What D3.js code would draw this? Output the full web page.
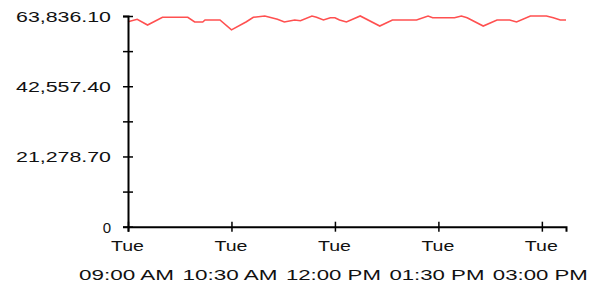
<!DOCTYPE html>
<html>
<head>
<meta charset="utf-8">
<script src="https://cdn.jsdelivr.net/npm/d3@7"></script>
<style>
  html, body { margin: 0; padding: 0; background: #ffffff; }
  svg { display: block; }
  text { font-family: "Liberation Sans", Arial, sans-serif; font-size: 15px; fill: #111; }
</style>
</head>
<body>
<svg id="chart" width="601" height="291"></svg>
<script>
// ---- data ----
const times = ["09:00","09:08","09:17","09:30","09:52","09:58","10:05","10:07","10:20","10:30",
  "10:43","10:49","10:59","11:10","11:16","11:25","11:30","11:40","11:44","11:50",
  "11:56","12:00","12:04","12:10","12:22","12:39","12:50","13:11","13:21","13:25",
  "13:44","13:50","13:55","14:09","14:21","14:32","14:38","14:50","15:04","15:10",
  "15:16","15:21"];
const values = [62109,62836,61109,63442,63442,62018,62018,62624,62624,59624,
  62109,63442,63836.1,62836,62018,62624,62412,63836.1,63442,62624,
  63321,63321,62624,62018,63836.1,60806,62624,62624,63836.1,63321,
  63321,63836.1,63321,60806,62624,62624,62018,63836.1,63836.1,63321,
  62624,62624];
const yTickValues = [0, 10639.35, 21278.7, 31918.05, 42557.4, 53196.75, 63836.1];
const yTickLabels = ["0", "", "21,278.70", "", "42,557.40", "", "63,836.10"];
const xTickTimes = ["09:00","10:30","12:00","13:30","15:00"];
const xTickDays = ["Tue","Tue","Tue","Tue","Tue"];
const xTickLabels = ["09:00 AM","10:30 AM","12:00 PM","01:30 PM","03:00 PM"];
const xStart = "09:00", xEnd = "15:21";

// ---- chart ----
const parse = d3.timeParse("%H:%M");
const svg = d3.select("#chart");
const mLeft = 128, mRight = 566, mTop = 16, mBottom = 226.7;
const FONT = "'Liberation Sans', Arial, sans-serif";

const x = d3.scaleTime().domain([parse(xStart), parse(xEnd)]).range([mLeft, mRight]);
const y = d3.scaleLinear().domain([0, 63836.1]).range([mBottom, mTop]);

// line
const pts = times.map((t, i) => [parse(t), values[i]]);
svg.append("path")
  .datum(pts)
  .attr("fill", "none")
  .attr("stroke", "#ff5050")
  .attr("stroke-width", 1.6)
  .attr("d", d3.line().x(d => x(d[0])).y(d => y(d[1])));

// y axis
const yAxis = d3.axisLeft(y).tickValues(yTickValues).tickSizeOuter(0).tickSize(5)
  .tickFormat((d, i) => yTickLabels[i]);
const gy = svg.append("g").attr("transform", `translate(${mLeft},0)`).call(yAxis);
gy.select(".domain").attr("stroke", "#000").attr("stroke-width", 2);
gy.selectAll(".tick line").attr("x1", -5).attr("x2", 5).attr("stroke", "#000").attr("stroke-width", 1.5);
gy.selectAll(".tick text")
  .attr("x", -17).attr("dy", "0.36em").attr("fill", "#111")
  .style("font-family", FONT).style("font-size", "15px")
  .each(function(d, i) {
    const lbl = yTickLabels[i];
    if (lbl.length > 1) d3.select(this).attr("textLength", 95).attr("lengthAdjust", "spacingAndGlyphs");
  });

// x axis
const xAxis = d3.axisBottom(x).tickValues(xTickTimes.map(parse)).tickSizeOuter(0).tickSize(5)
  .tickFormat("");
const gx = svg.append("g").attr("transform", `translate(0,${mBottom})`).call(xAxis);
gx.select(".domain").attr("stroke", "#000").attr("stroke-width", 2);
gx.selectAll(".tick line").attr("y1", -5).attr("y2", 5).attr("stroke", "#000").attr("stroke-width", 1.5);
gx.selectAll(".tick text").remove();
gx.selectAll(".tick").each(function(d, i) {
  const g = d3.select(this);
  g.append("text").attr("x", -1).attr("y", 24).attr("text-anchor", "middle")
    .attr("textLength", 33).attr("lengthAdjust", "spacingAndGlyphs")
    .style("font-family", FONT).style("font-size", "15px").text(xTickDays[i]);
  g.append("text").attr("x", -2).attr("y", 53).attr("text-anchor", "middle")
    .attr("textLength", 95).attr("lengthAdjust", "spacingAndGlyphs")
    .style("font-family", FONT).style("font-size", "15px").text(xTickLabels[i]);
});
</script>
</body>
</html>
